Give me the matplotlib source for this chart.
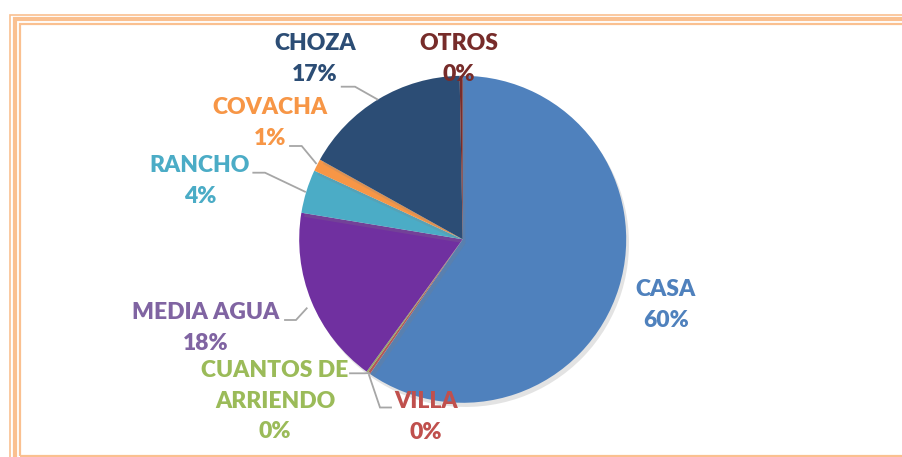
import matplotlib.pyplot as plt
import matplotlib.patheffects as pe
from matplotlib.patches import Rectangle

# tipos de vivienda, en el orden del pastel (horario desde arriba)
categorias = ['CASA', 'VILLA', 'CUANTOS DE\nARRIENDO', 'MEDIA AGUA',
              'RANCHO', 'COVACHA', 'CHOZA', 'OTROS']
porcentajes = [59.6, 0.25, 0.15, 17.6, 4.3, 1.2, 16.6, 0.3]

colores = ['#4F81BD', '#C0504D', '#9BBB59', '#7030A0',
           '#4BACC6', '#F79646', '#2C4D75', '#772C2A']
colores_txt = ['#4F81BD', '#C0504D', '#9BBB59', '#8064A2',
               '#4BACC6', '#F79646', '#2C4D75', '#772C2A']

W, H = 902, 457
fig = plt.figure(figsize=(W / 100, H / 100), dpi=100)
ax = fig.add_axes([0, 0, 1, 1])

def Y(y):
    # coordenadas de imagen -> coordenadas del eje
    return H - y

# marco naranja (triple linea, cortado a la derecha y abajo)
borde = '#FAC090'
ax.add_patch(Rectangle((10, Y(600)), 1000, 600 - 14.7, fill=False, ec=borde, lw=1.2))
ax.add_patch(Rectangle((14.7, Y(600)), 1000, 600 - 18.7, fill=False, ec=borde, lw=3))
ax.add_patch(Rectangle((20.3, Y(455.5)), 1000, 455.5 - 24.3, fill=False, ec=borde, lw=1.6))

cx, cy, r = 462.7, Y(239.3), 163.5
wedges, _ = ax.pie(porcentajes, colors=colores, startangle=90, counterclock=False,
                   center=(cx, cy), radius=r, frame=True,
                   wedgeprops=dict(linewidth=0))
ax.set_xlim(0, W)
ax.set_ylim(0, H)
ax.set_aspect('equal')
ax.axis('off')
for w in wedges:
    w.set_path_effects([pe.SimplePatchShadow(offset=(2, -3), shadow_rgbFace='#808080', alpha=0.22),
                        pe.Normal()])

# posiciones de las etiquetas (x, y de imagen)
pos_txt = [(666, 305), (426, 417), (275, 401), (206, 328),
           (200, 181), (270, 123), (315, 59), (459, 59)]
# lineas guia
guias = {
    'CHOZA': [(341.7, 86.7), (355, 86.7), (377.3, 99.3)],
    'COVACHA': [(290, 146), (301.7, 146), (316, 163.3)],
    'RANCHO': [(253.3, 172.7), (265, 172.7), (305, 191.7)],
    'MEDIA AGUA': [(285, 320), (296, 320), (306.7, 308.3)],
    'CUANTOS DE\nARRIENDO': [(350, 373.3), (365, 373.3), (369, 373)],
    'VILLA': [(369, 375), (380, 407.5), (391, 407.5)],
}
for k, pts in guias.items():
    ax.plot([p[0] for p in pts], [Y(p[1]) for p in pts], color='#A6A6A6', lw=1.3,
            solid_joinstyle='miter')

for cat, p, c, (x, y) in zip(categorias, porcentajes, colores_txt, pos_txt):
    ax.text(x, Y(y), f'{cat}\n{p:.0f}%', color=c, fontsize=16.5, fontweight='heavy',
            family='Lato', ha='center', va='center', linespacing=1.55)

fig.savefig('out.png', dpi=100)
